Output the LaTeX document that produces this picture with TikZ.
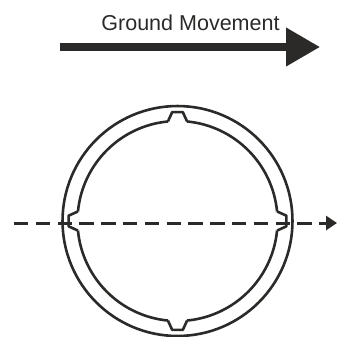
\documentclass[tikz,border=0pt]{standalone}
\usepackage{fontspec}
\setmainfont{Liberation Sans}
\usepackage{tikz}
\usetikzlibrary{
  arrows.meta,
  calc
}
\definecolor{inkdark}{HTML}{2B2A29}

\begin{document}
\begin{tikzpicture}[
  x=0.02cm, y=0.02cm,
  ringline/.style={draw=inkdark, line width=0.052cm, line join=round},
  moveArrow/.style={
    draw=inkdark, line width=0.146cm,
    -{Triangle[length=0.68cm, width=0.74cm, fill=inkdark]},
  },
  sectionLine/.style={
    draw=inkdark, line width=0.06cm, dash pattern=on 0.29cm off 0.146cm,
    -{Triangle[length=0.22cm, width=0.28cm, fill=inkdark]},
  },
]
\useasboundingbox (0,0) rectangle (337,336);

% Ground movement arrow
\coordinate (moveStart) at (60,289);
\coordinate (moveEnd) at (320,289);
\draw[moveArrow] (moveStart) -- (moveEnd);
\node[font=\fontsize{12.25pt}{14pt}\selectfont, text=inkdark, anchor=base, inner sep=0pt] (moveLabel) at (190.5,305.2) {Ground Movement};

% Ring
\coordinate (ringC) at (177.5,115);
\node[ringline, circle, minimum size=4.6cm, inner sep=0pt] (ringOuter) at (ringC) {};
\foreach \a in {0,90,180,270} {
  \draw[ringline] ($(ringC)+(\a+5.5:100)$) arc[start angle=\a+5.5, end angle=\a+84.5, radius=100];
  \draw[ringline] ($(ringC)+(\a-5.5:100)$) -- ($(ringC)+(\a-2.8:109)$) -- ($(ringC)+(\a+2.8:109)$) -- ($(ringC)+(\a+5.5:100)$);
}

% Section line
\coordinate (cutStart) at (14,113);
\coordinate (cutEnd) at (337,113);
\draw[sectionLine] (cutStart) -- (cutEnd);
\end{tikzpicture}
\end{document}
